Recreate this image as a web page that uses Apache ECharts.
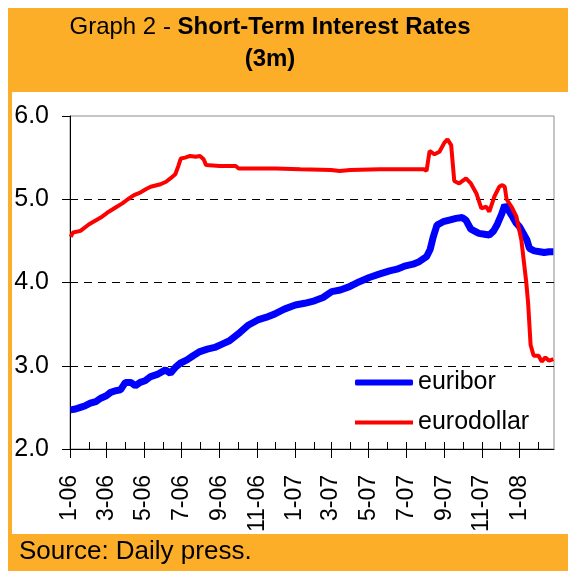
<!DOCTYPE html>
<html><head><meta charset="utf-8">
<script src="https://cdn.jsdelivr.net/npm/echarts@6/dist/echarts.min.js"></script>
<style>html,body{margin:0;padding:0;background:#fff}#c{width:568px;height:571px}</style>
</head><body><div id="c"></div>
<script>
const euriborDates = ['2006-01-02','2006-01-10','2006-01-18','2006-01-26','2006-02-03','2006-02-12','2006-02-20','2006-03-01','2006-03-08','2006-03-16','2006-03-24','2006-04-01','2006-04-10','2006-04-17','2006-04-25','2006-05-03','2006-05-12','2006-05-24','2006-06-05','2006-06-13','2006-06-21','2006-06-29','2006-07-10','2006-07-20','2006-07-31','2006-08-12','2006-08-24','2006-09-05','2006-09-17','2006-10-04','2006-10-18','2006-11-02','2006-11-15','2006-11-29','2006-12-15','2007-01-02','2007-01-17','2007-02-02','2007-02-16','2007-03-02','2007-03-16','2007-03-31','2007-04-16','2007-05-02','2007-05-18','2007-06-04','2007-06-16','2007-06-30','2007-07-12','2007-07-22','2007-08-03','2007-08-09','2007-08-14','2007-08-20','2007-08-30','2007-09-09','2007-09-20','2007-09-30','2007-10-06','2007-10-14','2007-10-27','2007-11-05','2007-11-13','2007-11-20','2007-11-26','2007-12-03','2007-12-08','2007-12-13','2007-12-19','2007-12-26','2008-01-01','2008-01-13','2008-01-17','2008-01-25','2008-02-03','2008-02-10','2008-02-18','2008-02-25'];
const euriborValues = [2.47,2.48,2.50,2.52,2.55,2.57,2.61,2.64,2.68,2.70,2.71,2.80,2.80,2.76,2.80,2.82,2.87,2.90,2.95,2.91,2.98,3.03,3.07,3.12,3.17,3.20,3.22,3.26,3.30,3.40,3.49,3.55,3.58,3.62,3.68,3.73,3.75,3.78,3.82,3.89,3.91,3.95,4.01,4.06,4.10,4.14,4.16,4.20,4.22,4.25,4.31,4.40,4.55,4.69,4.73,4.75,4.77,4.78,4.75,4.64,4.59,4.58,4.57,4.62,4.70,4.82,4.93,4.88,4.81,4.72,4.67,4.51,4.41,4.38,4.37,4.36,4.37,4.37];
const eurodollarDates = ['2006-01-02','2006-01-06','2006-01-18','2006-02-01','2006-02-20','2006-03-05','2006-03-16','2006-03-27','2006-04-05','2006-04-15','2006-04-25','2006-05-04','2006-05-12','2006-05-28','2006-06-06','2006-06-13','2006-06-21','2006-06-26','2006-06-30','2006-07-07','2006-07-15','2006-07-24','2006-07-31','2006-08-06','2006-08-10','2006-09-01','2006-09-27','2006-10-02','2006-12-01','2007-01-10','2007-03-01','2007-03-15','2007-04-01','2007-05-19','2007-07-30','2007-08-03','2007-08-08','2007-08-16','2007-08-24','2007-09-01','2007-09-06','2007-09-12','2007-09-17','2007-09-25','2007-10-06','2007-10-14','2007-10-23','2007-10-31','2007-11-08','2007-11-13','2007-11-21','2007-11-29','2007-12-04','2007-12-08','2007-12-11','2007-12-19','2007-12-27','2008-01-04','2008-01-12','2008-01-15','2008-01-19','2008-01-24','2008-02-01','2008-02-06','2008-02-12','2008-02-18','2008-02-25'];
const eurodollarValues = [4.55,4.60,4.62,4.70,4.78,4.85,4.90,4.95,5.00,5.05,5.08,5.12,5.15,5.18,5.21,5.25,5.30,5.40,5.49,5.50,5.52,5.51,5.52,5.48,5.41,5.40,5.40,5.37,5.37,5.36,5.35,5.34,5.35,5.36,5.36,5.34,5.58,5.54,5.57,5.68,5.72,5.65,5.22,5.19,5.25,5.19,5.07,4.89,4.91,4.85,5.03,5.15,5.17,5.15,5.00,4.91,4.79,4.51,4.00,3.75,3.25,3.12,3.12,3.05,3.10,3.06,3.08];
const yTickValues = [2, 3, 4, 5, 6];
const xTickLabels = ['1-06','3-06','5-06','7-06','9-06','11-06','1-07','3-07','5-07','7-07','9-07','11-07','1-08'];
const xMonthTicks = ['1-06','2-06','3-06','4-06','5-06','6-06','7-06','8-06','9-06','10-06','11-06','12-06','1-07','2-07','3-07','4-07','5-07','6-07','7-07','8-07','9-07','10-07','11-07','12-07','1-08','2-08'];
const xStart = '2006-01-01', xEnd = '2008-02-26';

const FONT = 'Liberation Sans, Arial, sans-serif';
const DAY = 86400000;
// x values = days since 2006-01-01
function dnum(s){ const p = s.split('-').map(Number); return (Date.UTC(p[0], p[1]-1, p[2]) - Date.UTC(2006,0,1)) / DAY; }
function labelNum(l){ const p = l.split('-').map(Number); return (Date.UTC(2000+p[1], p[0]-1, 1) - Date.UTC(2006,0,1)) / DAY; }
const majorX = xTickLabels.map(labelNum);
const minorX = xMonthTicks.map(labelNum);
const labelOf = {}; xTickLabels.forEach(l => { labelOf[labelNum(l)] = l; });

const legendText = {fontSize:25, fontFamily:FONT, color:'#000'};
const chart = echarts.init(document.getElementById('c'), null, {renderer:'canvas'});
chart.setOption({
  animation: false,
  backgroundColor: '#ffffff',
  graphic: [
    {type:'rect', z:-100, silent:true, shape:{x:8,y:8,width:560,height:563}, style:{fill:'#FDAE28'}},
    {type:'rect', z:-99, silent:true, shape:{x:12,y:92,width:556,height:442}, style:{fill:'#ffffff'}}
  ],
  title: [
    {text:'{n|Graph 2 - }{b|Short-Term Interest Rates}\n{b|(3m)}', left:270, top:11, textAlign:'center', padding:0,
     textStyle:{fontWeight:'normal', rich:{n:{fontSize:24,fontWeight:'normal',fontFamily:FONT,color:'#000',lineHeight:32},b:{fontSize:24,fontWeight:'bold',fontFamily:FONT,color:'#000',lineHeight:32}}}},
    {text:'Source: Daily press.', left:19, top:538, padding:0, textStyle:{fontSize:26,fontWeight:'normal',fontFamily:FONT,color:'#000',lineHeight:28}}
  ],
  grid: {left:70, right:14, top:116, bottom:122, show:true, borderColor:'#8c8c8c', borderWidth:1, backgroundColor:'transparent'},
  legend: [
    {orient:'vertical', left:355, top:370, itemWidth:58, itemHeight:6, padding:0, itemGap:0,
     icon:'roundRect', textStyle:legendText, data:['euribor']},
    {orient:'vertical', left:355, top:410, itemWidth:58, itemHeight:4, padding:0, itemGap:0,
     icon:'rect', textStyle:legendText, data:['eurodollar']}
  ],
  xAxis: [
    {type:'value', min:dnum(xStart), max:dnum(xEnd),
     axisLine:{show:true, lineStyle:{color:'#000', width:1}},
     axisTick:{show:true, customValues:majorX, length:9, lineStyle:{color:'#000'}},
     axisLabel:{show:true, customValues:majorX, rotate:90, margin:26, fontSize:23, fontFamily:FONT, color:'#000', formatter:function(v){ return labelOf[Math.round(v)] || ''; }},
     splitLine:{show:false}},
    {type:'value', min:dnum(xStart), max:dnum(xEnd), position:'bottom',
     axisLine:{show:false},
     axisTick:{show:true, inside:true, customValues:minorX, length:7, lineStyle:{color:'#000'}},
     axisLabel:{show:false}, splitLine:{show:false}}
  ],
  yAxis: {type:'value', min:yTickValues[0], max:yTickValues[yTickValues.length-1], interval:1,
    axisLine:{show:true, lineStyle:{color:'#000', width:1}},
    axisTick:{show:true, length:8, lineStyle:{color:'#000'}},
    axisLabel:{fontSize:25, fontFamily:FONT, color:'#000', margin:21, formatter:function(v){return v.toFixed(1);}},
    splitLine:{show:true, showMinLine:false, showMaxLine:false, lineStyle:{color:'#000', width:1, type:[8,6]}}},
  series: [
    {name:'euribor', type:'line', xAxisIndex:0, symbol:'none', showSymbol:false, z:3,
     lineStyle:{color:'#0000FF', width:7}, itemStyle:{color:'#0000FF'},
     data: euriborDates.map((d,i)=>[dnum(d), euriborValues[i]])},
    {name:'eurodollar', type:'line', xAxisIndex:0, symbol:'none', showSymbol:false, z:4,
     lineStyle:{color:'#FF0000', width:4}, itemStyle:{color:'#FF0000'},
     data: eurodollarDates.map((d,i)=>[dnum(d), eurodollarValues[i]])}
  ]
});
</script></body></html>
